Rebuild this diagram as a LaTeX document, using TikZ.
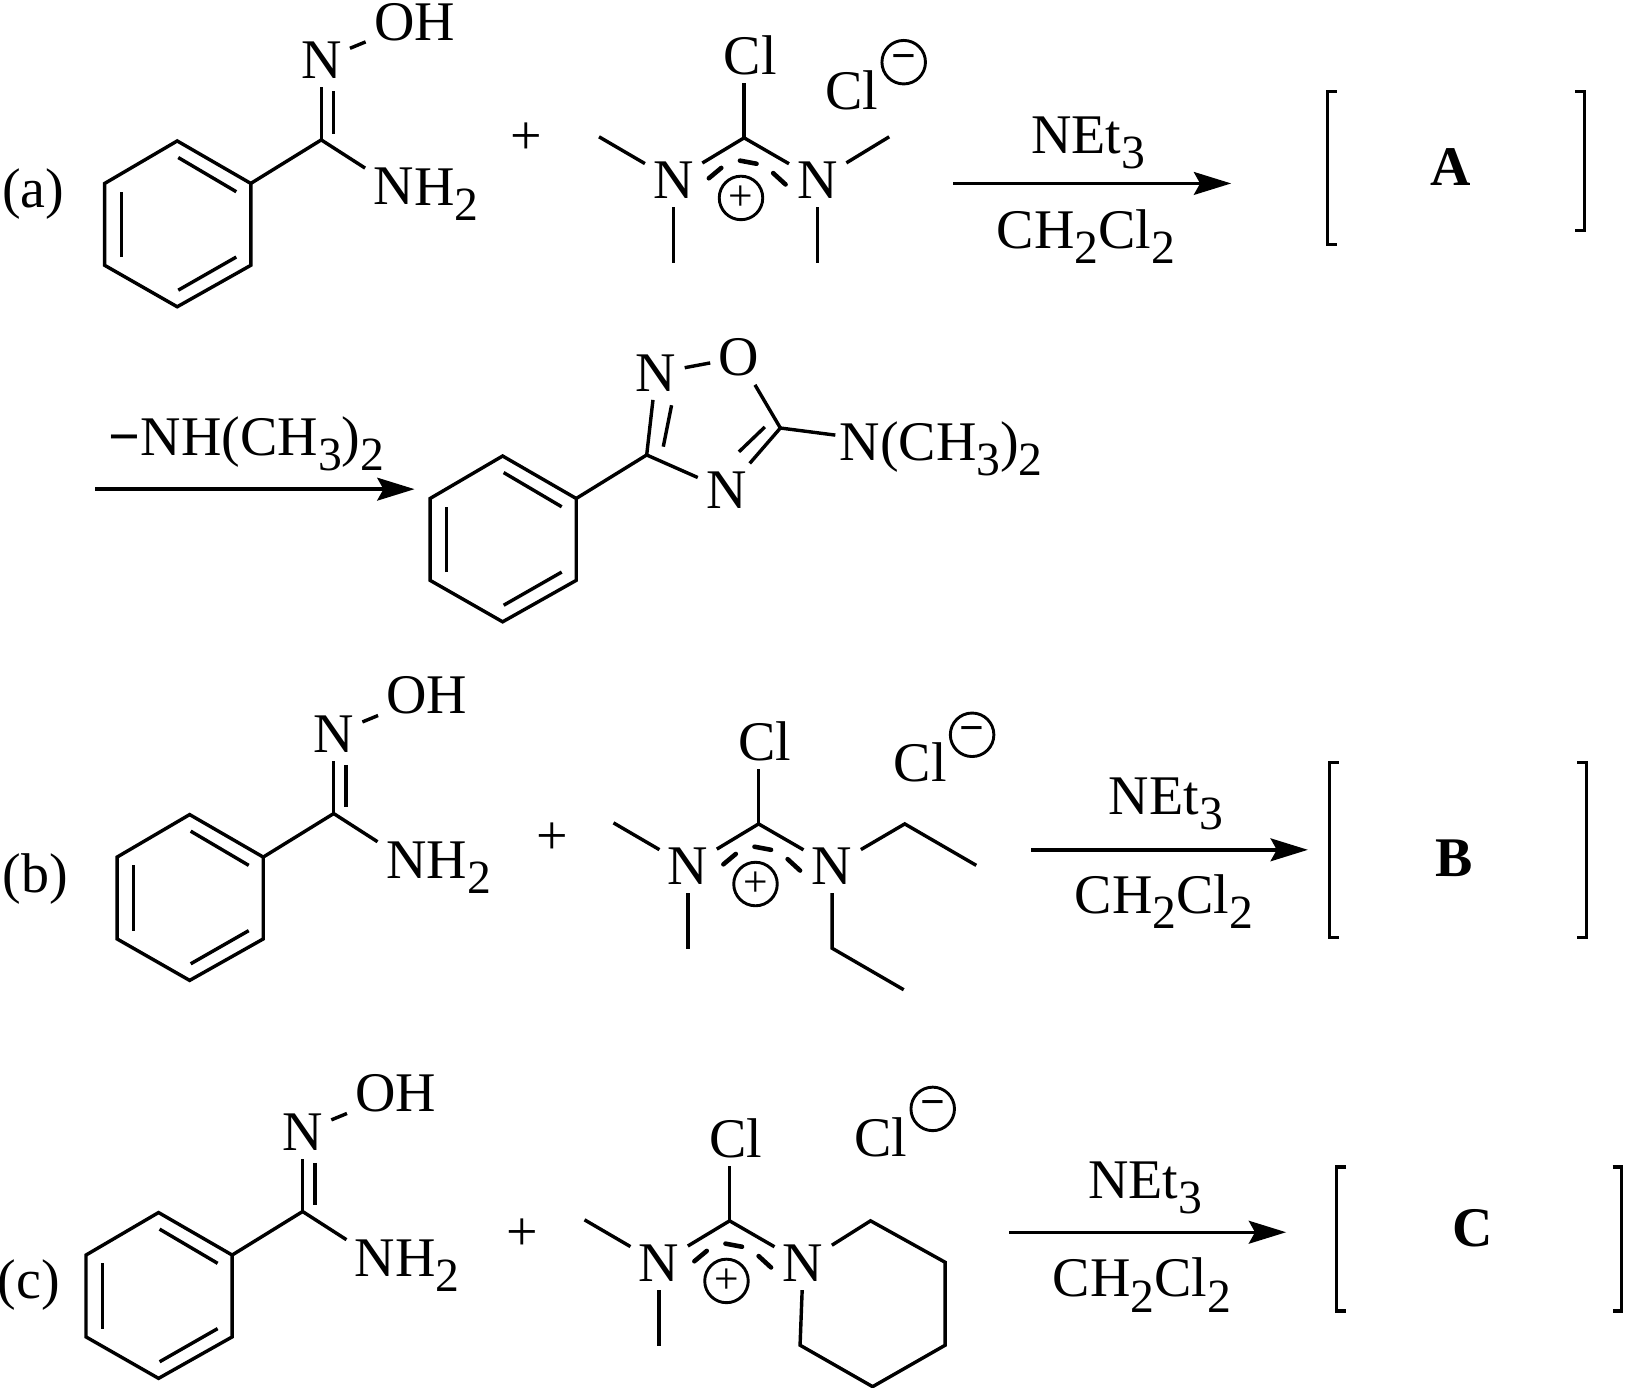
\documentclass[tikz,border=0pt]{standalone}
\usepackage{fontspec}
\setmainfont{Liberation Serif}
\usetikzlibrary{arrows.meta}
\newcommand\subfont[1]{\raisebox{-0.27em}{\fontsize{46}{46}\selectfont #1}}
\newcommand\phenyl[3]{
  \begin{scope}[shift={(#2,#3)}]
	\coordinate (#1a) at (171,136);
	\coordinate (#1b) at (242,177);
	\coordinate (#1c) at (242,256);
	\coordinate (#1d) at (171,296);
	\coordinate (#1e) at (101,256);
	\coordinate (#1f) at (101,177);
	\coordinate (#1ab) at (172,152);
	\coordinate (#1ba) at (228,185);
	\coordinate (#1cd) at (228,248);
	\coordinate (#1dc) at (172,280);
	\coordinate (#1ef) at (117,248);
	\coordinate (#1fe) at (117,185);
	\coordinate (#1sub) at (310,135);
	\draw[bond] (#1a) -- (#1b) -- (#1c) -- (#1d) -- (#1e) -- (#1f) -- cycle;
	\draw[bond] (#1ab) -- (#1ba);
	\draw[bond] (#1cd) -- (#1dc);
	\draw[bond] (#1ef) -- (#1fe);
	\draw[bond] (#1b) -- (#1sub);
  \end{scope}
}
\newcommand\oxime[3]{
  \phenyl{#1}{#2}{#3}
  \begin{scope}[shift={(#2,#3)}]
	\node[atom] (#1N) at (310,58){N};
	\node[atom,inner ysep=2pt] (#1OH) at (400,21){OH};
	\node[atom] (#1NH) at (380,180){N};
	\node[atom,anchor=base west,inner sep=0] (#1H) at (399.5,198){H\subfont{2}};
	\coordinate (#1up) at (322,88);
	\coordinate (#1dn) at (322,129);
	\draw[bond] (#1sub) -- (#1N);
	\draw[bond] (#1up) -- (#1dn);
	\draw[bond] (#1N) -- (#1OH);
	\draw[bond] (#1sub) -- (#1NH);
  \end{scope}
}
\newcommand\cation[3]{
  \begin{scope}[shift={(#2,#3)}]
	\node[atom] (#1Cl) at (724,53){Cl};
	\coordinate (#1C) at (718,133);
	\node[atom] (#1L) at (650,174){N};
	\node[atom] (#1R) at (789,174){N};
	\coordinate (#1Lme) at (578,132);
	\coordinate (#1Ldn) at (650,254);
	\node[charge] (#1plus) at (715,191){+};
	\coordinate (#1da) at (684,172);
	\coordinate (#1db) at (696,162);
	\coordinate (#1dc) at (714,155);
	\coordinate (#1dd) at (730,158);
	\coordinate (#1de) at (746,167);
	\coordinate (#1df) at (758,178);
	\draw[bond] (#1C) -- (#1C |- #1Cl.south);
	\draw[bond] (#1C) -- (#1L);
	\draw[bond] (#1C) -- (#1R);
	\draw[bond] (#1L) -- (#1Lme);
	\draw[bond] (#1L) -- (#1Ldn);
	\draw[dashbond] (#1da) -- (#1db);
	\draw[dashbond] (#1dc) -- (#1dd);
	\draw[dashbond] (#1de) -- (#1df);
  \end{scope}
}
\newcommand\chloride[3]{
	\node[atom] (#1) at (#2,#3){Cl};
	\node[charge] (#1m) at (#2+50,#3-27){\textbf{−}};
}
\newcommand\leftbrk[3]{
	\draw[bracket] (#1+9,#2) -- (#1,#2) -- (#1,#3) -- (#1+9,#3);
}
\newcommand\rightbrk[3]{
	\draw[bracket] (#1-9,#2) -- (#1,#2) -- (#1,#3) -- (#1-9,#3);
}
\begin{document}
\begin{tikzpicture}[x=1pt, y=-1pt,
	bond/.style = {line width=3.3pt},
	dashbond/.style = {line width=4.4pt, line cap=round},
	bracket/.style = {line width=3pt},
	atom/.style = {inner sep=8pt, font=\fontsize{54}{54}\selectfont},
	plain/.style = {inner sep=0, font=\fontsize{54}{54}\selectfont},
	charge/.style = {draw, circle, line width=2.8pt, inner sep=0, minimum size=42pt, font=\fontsize{42}{42}\selectfont},
	rxn/.style = {line width=3.3pt, -{Stealth[length=36pt,width=22pt,inset=6pt]}}]
	\useasboundingbox (0,0) rectangle (1568,1339);
	% part a
	\node[plain] (labela) at (32,187){(a)};
	\oxime{pa}{0}{0}
	\node[plain] (plusa) at (508,134){+};
	\cation{ca}{0}{0}
	\coordinate (Rmea) at (858,132);
	\coordinate (Rdna) at (789,254);
	\draw[bond] (caR) -- (Rmea);
	\draw[bond] (caR) -- (Rdna);
	\chloride{cla}{822}{87}
	\coordinate (a1) at (920,177);
	\coordinate (a2) at (1188,177);
	\draw[rxn] (a1) -- (a2);
	\node[plain] (basea) at (1050,138){NEt\subfont{3}};
	\node[plain] (solva) at (1048,228){CH\subfont{2}Cl\subfont{2}};
	\leftbrk{1281}{88}{236}
	\rightbrk{1529}{88}{222}
	\node[plain] (A) at (1400,161){\textbf{A}};
	% product of a
	\coordinate (a3) at (92,472);
	\coordinate (a4) at (400,472);
	\draw[rxn] (a3) -- (a4);
	\node[plain] (lossa) at (238,428){\textbf{−}NH(CH\subfont{3})\subfont{2}};
	\phenyl{pr}{314}{304}
	\node[atom] (N1) at (633,360){N};
	\node[atom] (O1) at (713,345){O};
	\node[atom] (N2) at (701,473){N};
	\coordinate (C5) at (753,413);
	\coordinate (d1) at (640,431);
	\coordinate (d2) at (648,391);
	\coordinate (d3) at (738,412);
	\coordinate (d4) at (713,436);
	\node[plain,anchor=west] (amine) at (810,433){N(CH\subfont{3})\subfont{2}};
	\draw[bond] (prsub) -- (N1);
	\draw[bond] (d1) -- (d2);
	\draw[bond] (N1) -- (O1);
	\draw[bond] (O1) -- (C5);
	\draw[bond] (C5) -- (N2);
	\draw[bond] (d3) -- (d4);
	\draw[bond] (prsub) -- (N2);
	\draw[bond,shorten >=4pt] (C5) -- (amine);
	% part b
	\node[plain] (labelb) at (34,848){(b)};
	\oxime{pb}{12}{650}
	\node[plain] (plusb) at (533,809){+};
	\cation{cb}{14}{662}
	\coordinate (e1) at (873,795);
	\coordinate (e2) at (942,835);
	\coordinate (e3) at (803,915);
	\coordinate (e4) at (872,955);
	\draw[bond] (cbR) -- (e1) -- (e2);
	\draw[bond] (cbR) -- (e3) -- (e4);
	\chloride{clb}{888}{736}
	\coordinate (b1) at (995,820);
	\coordinate (b2) at (1262,820);
	\draw[rxn] (b1) -- (b2);
	\node[plain] (baseb) at (1125,776){NEt\subfont{3}};
	\node[plain] (solvb) at (1123,870){CH\subfont{2}Cl\subfont{2}};
	\leftbrk{1283}{736}{905}
	\rightbrk{1531}{736}{905}
	\node[plain] (B) at (1403,828){\textbf{B}};
	% part c
	\node[plain] (labelc) at (28,1240){(c)};
	\oxime{pc}{-18}{1034}
	\node[plain] (plusc) at (504,1191){+};
	\cation{cc}{-14}{1045}
	\coordinate (r1) at (840,1178);
	\coordinate (r2) at (912,1218);
	\coordinate (r3) at (912,1298);
	\coordinate (r4) at (842,1338);
	\coordinate (r5) at (772,1298);
	\draw[bond] (ccR) -- (r1) -- (r2) -- (r3) -- (r4) -- (r5) -- (ccR);
	\chloride{clc}{850}{1097}
	\coordinate (c1) at (974,1189);
	\coordinate (c2) at (1241,1189);
	\draw[rxn] (c1) -- (c2);
	\node[plain] (basec) at (1105,1146){NEt\subfont{3}};
	\node[plain] (solvc) at (1102,1240){CH\subfont{2}Cl\subfont{2}};
	\leftbrk{1290}{1126}{1265}
	\rightbrk{1565}{1126}{1265}
	\node[plain] (C) at (1421,1185){\textbf{C}};
\end{tikzpicture}
\end{document}
